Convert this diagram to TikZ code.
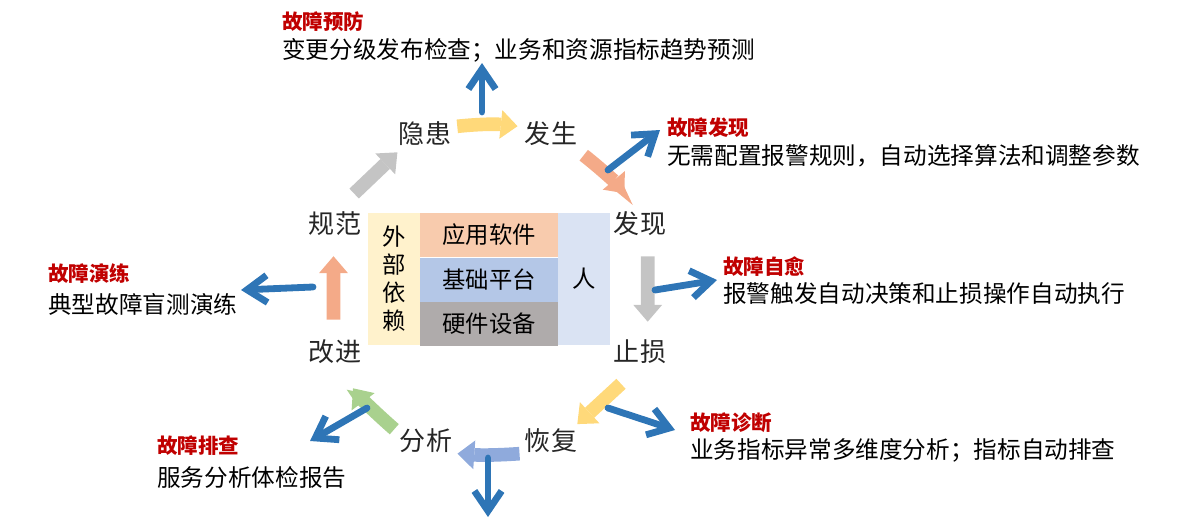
\documentclass[tikz,border=0pt]{standalone}
\usepackage{fontspec}
\setmainfont{Noto Sans CJK SC}
\usetikzlibrary{arrows.meta}
\definecolor{tipred}{HTML}{C00000}
\definecolor{hintblue}{HTML}{2E75B6}
\definecolor{sunny}{HTML}{FFD97A}
\definecolor{salmon}{HTML}{F4AA88}
\definecolor{greyarr}{HTML}{C4C4C4}
\definecolor{periwinkle}{HTML}{8FAADC}
\definecolor{leaf}{HTML}{A9D18E}
\definecolor{extcol}{HTML}{FFF2CC}
\definecolor{appcol}{HTML}{F8CBAD}
\definecolor{platcol}{HTML}{B4C7E7}
\definecolor{hwcol}{HTML}{AFABAB}
\definecolor{pplcol}{HTML}{DAE3F3}

\begin{document}
\begin{tikzpicture}[x=0.025cm,y=-0.025cm,
  stage/.style={inner sep=0pt,text=black!85,font=\fontsize{18.5}{20}\selectfont},
  layer/.style={inner sep=0pt,minimum width=3.45cm,minimum height=1.1cm,font=\fontsize{16.6}{20}\selectfont},
  side/.style={inner sep=0pt,minimum width=1.3cm,minimum height=3.3cm,align=center,font=\fontsize{16.6}{19.9}\selectfont},
  tiptitle/.style={anchor=west,inner sep=0pt,text=tipred,font=\fontsize{14.6}{16}\selectfont\bfseries},
  tiptext/.style={anchor=west,inner sep=0pt,font=\fontsize{16.8}{19}\selectfont},
  fat/.style={line width=0.34cm,-{Triangle[length=0.42cm,width=0.72cm,line width=0pt]}},
  hint/.style={draw=hintblue,line width=0.17cm,line cap=round,-{Straight Barb[length=0.5cm,width=0.68cm]}}]
\useasboundingbox (0,0) rectangle (1200,520);

% central block
\node[side,fill=extcol] (ext) at (394,279) {外\\部\\依\\赖};
\node[layer,fill=appcol] (app) at (489,235) {应用软件};
\node[layer,fill=platcol] (plat) at (489,279.5) {基础平台};
\node[layer,fill=hwcol] (hw) at (489,323.5) {硬件设备};
\node[side,fill=pplcol] (ppl) at (584,279) {人};

% cycle
\node[stage] (yh) at (425,134) {隐患};
\node[stage] (fs) at (551,134) {发生};
\node[stage] (fx) at (640,224) {发现};
\node[stage] (zs) at (640,352) {止损};
\node[stage] (hf) at (551,441) {恢复};
\node[stage] (fxi) at (426,441) {分析};
\node[stage] (gj) at (335,352) {改进};
\node[stage] (gf) at (335,224) {规范};

\draw[fat,sunny,shorten <=0.15cm,shorten >=0.18cm] (yh.15) to[bend left=6] (fs.165);
\draw[fat,salmon,shorten <=0.36cm,shorten >=0.6cm] (fs.-30) to[bend left=6] (fx.north);
\draw[fat,greyarr,shorten <=0.5cm,shorten >=0.45cm] (fx.-58) -- (zs.58);
\draw[fat,sunny,shorten <=0.72cm,shorten >=0.17cm] (zs.-80) -- (hf.30);
\draw[fat,periwinkle,shorten <=0.13cm,shorten >=0.13cm] (hf.south west) to[bend left=4] (fxi.south east);
\draw[fat,leaf,shorten <=0.18cm,shorten >=0.75cm] (fxi.165) to[bend left=6] (gj.south);
\draw[fat,salmon,shorten <=0.5cm,shorten >=0.5cm] (gj.97) -- (gf.-97);
\draw[fat,greyarr,shorten <=0.66cm,shorten >=0.22cm] (gf.north) -- (yh.-150);

% tips
\node[tiptitle] (t1) at (282,22) {故障预防};
\node[tiptext] (d1) at (282,50) {变更分级发布检查；业务和资源指标趋势预测};
\node[tiptitle] (t2) at (667,128) {故障发现};
\node[tiptext] (d2) at (667,156) {无需配置报警规则，自动选择算法和调整参数};
\node[tiptitle] (t3) at (723,267) {故障自愈};
\node[tiptext] (d3) at (723,294) {报警触发自动决策和止损操作自动执行};
\node[tiptitle] (t4) at (690,423) {故障诊断};
\node[tiptext] (d4) at (690,450) {业务指标异常多维度分析；指标自动排查};
\node[tiptitle] (t5) at (157,446) {故障排查};
\node[tiptext] (d5) at (157,478) {服务分析体检报告};
\node[tiptitle] (t6) at (48,274) {故障演练};
\node[tiptext] (d6) at (48,304) {典型故障盲测演练};

\coordinate (A1) at (482,112); \coordinate (B1) at (482,63);
\coordinate (A2) at (608,170); \coordinate (B2) at (660,130);
\coordinate (A3) at (655,290); \coordinate (B3) at (717,280);
\coordinate (A4) at (608,408); \coordinate (B4) at (675,430);
\coordinate (A5) at (488,458); \coordinate (B5) at (488,517);
\coordinate (A6) at (367,408); \coordinate (B6) at (310,441);
\coordinate (A7) at (313,287); \coordinate (B7) at (241,290);
\foreach \i in {1,...,7}
  \draw[hint] (A\i) -- (B\i);
\end{tikzpicture}
\end{document}
